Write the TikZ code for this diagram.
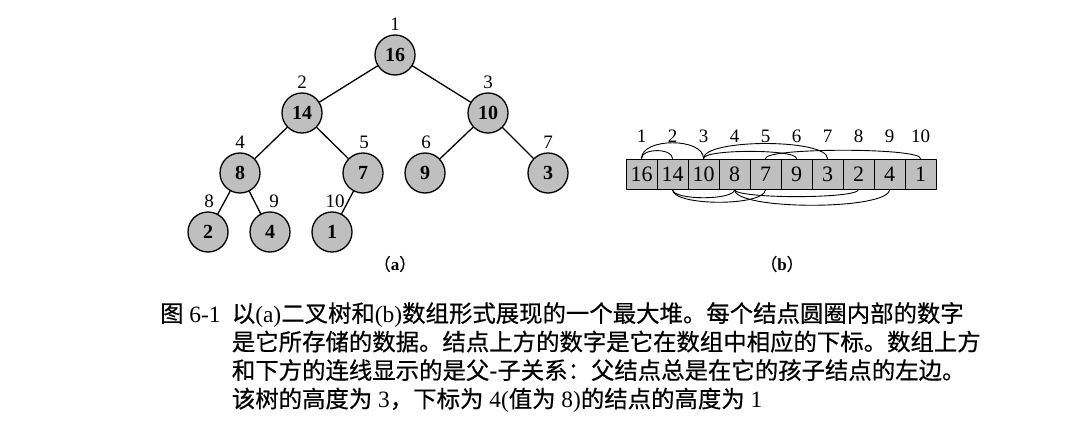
\documentclass[tikz,border=0pt]{standalone}
\usepackage{fontspec}
\setmainfont{Liberation Serif}
\newfontfamily\cjk[FakeBold=0.6]{Noto Sans CJK SC}

\tikzset{
    heapnode/.style={circle,draw,line width=1.3pt,fill=black!25,
                     minimum size=40pt,inner sep=0pt,
                     font=\fontsize{20}{20}\selectfont\bfseries},
    idx/.style={font=\fontsize{19}{19}\selectfont,inner sep=1pt},
    slot/.style={draw,line width=1pt,fill=black!25,minimum width=31pt,
                 minimum height=30pt,inner sep=0pt,
                 font=\fontsize{22}{22}\selectfont},
    link/.style={line width=1.3pt},
    heaparc/.style={line width=0.9pt},
    sublabel/.style={font=\fontsize{17}{17}\selectfont,inner sep=0pt},
    captext/.style={font=\fontsize{23.4}{28}\selectfont,inner sep=0pt,
                    anchor=base west}
}

\begin{document}
\begin{tikzpicture}[x=1pt,y=-1pt,line cap=round,line join=round]
    \useasboundingbox (0,0) rectangle (1067,444);

    %% (a) the heap as a binary tree.
    % name/value/position/index/label shift
    \foreach \name/\val/\pos/\lab/\dx in {%
        t1/16/{395,55}/1/0,
        t2/14/{302,113}/2/0,
        t3/10/{488,113}/3/0,
        t4/8/{240,173}/4/0,
        t5/7/{363,173}/5/1,
        t6/9/{425,173}/6/1,
        t7/3/{548,173}/7/0,
        t8/2/{208,232}/8/1,
        t9/4/{270,232}/9/4,
        t10/1/{332,232}/10/3} {
        \node[heapnode,label={[idx,label distance=2.5pt,xshift=\dx pt]above:\lab}]
            (\name) at (\pos) {\val};
    }
    \foreach \a/\b in {t1/t2,t1/t3,t2/t4,t2/t5,t3/t6,t3/t7,t4/t8,t4/t9,t5/t10} {
        \draw[link] (\a) -- (\b);
    }
    \node[sublabel] (suba) at (395,264) {{\cjk （}\textbf{a}{\cjk ）}};

    %% (b) the same heap as an array.
    \foreach \v [count=\i] in {16,14,10,8,7,9,3,2,4,1} {
        \node[slot,label={[idx,label distance=14.5pt]above:\i}]
            (c\i) at ({626+31*(\i-0.5)},174) {\v};
    }
    % parent/child links above the array
    \foreach \a/\b/\h in {1/2/10.5,1/3/21,3/6/9.5,3/7/20,5/10/11} {
        \draw[heaparc] (c\a.north) .. controls +(0,-\h) and +(0,-\h) .. (c\b.north);
    }
    % and below it
    \foreach \a/\b/\h in {2/4/11,2/5/17,4/8/9.5,4/9/21} {
        \draw[heaparc] (c\a.south) .. controls +(0,\h) and +(0,\h) .. (c\b.south);
    }
    \node[sublabel] (subb) at (782,264) {{\cjk （}\textbf{b}{\cjk ）}};

    %% Caption.
    \node[captext] (fig) at (160,322) {{\cjk 图} 6-1};
    \node[captext] (cap1) at (231.7,322)
        {{\cjk 以}(a){\cjk 二叉树和}(b){\cjk 数组形式展现的一个最大堆。每个结点圆圈内部的数字}};
    \node[captext] (cap2) at (231.7,350.5)
        {\cjk 是它所存储的数据。结点上方的数字是它在数组中相应的下标。数组上方};
    \node[captext] (cap3) at (231.7,379)
        {\cjk 和下方的连线显示的是父-子关系：父结点总是在它的孩子结点的左边。};
    \node[captext] (cap4) at (231.7,407.5)
        {{\cjk 该树的高度为} 3{\cjk ，下标为} 4({\cjk 值为} 8){\cjk 的结点的高度为} 1};
\end{tikzpicture}
\end{document}
